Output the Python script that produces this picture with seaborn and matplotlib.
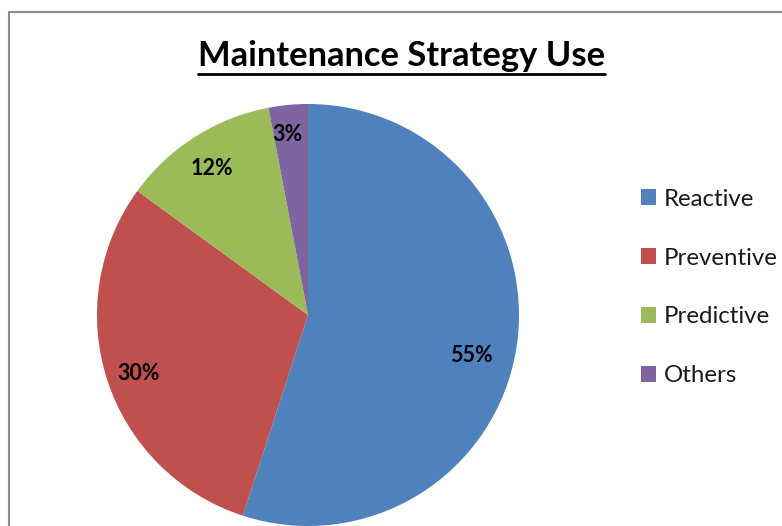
import matplotlib
matplotlib.use("Agg")
import numpy as np
import matplotlib.pyplot as plt
import seaborn as sns
from matplotlib.patches import Rectangle
from matplotlib.lines import Line2D

categories = ["Reactive", "Preventive", "Predictive", "Others"]
values = [55, 30, 12, 3]
colors = ["#4F81BD", "#C0504D", "#9BBB59", "#8064A2"]
title = "Maintenance Strategy Use"

# label placement (style): radial distance and angular shift in degrees
label_dist = [0.80, 0.85, 0.83, 0.86]
label_shift = [-5, 1, 1, 1]

sns.set_theme(style="white")
plt.rcParams['font.family'] = ['Lato', 'DejaVu Sans']

W, H = 782, 526
dpi = 100
fig = plt.figure(figsize=(W / dpi, H / dpi), dpi=dpi)
fig.patch.set_facecolor("white")

# chart frame
fig.patches.append(Rectangle((9 / W, -0.1), 1.2, 1 - 12 / H + 0.1, transform=fig.transFigure,
                             fill=False, edgecolor="#8c8c8c", linewidth=1.5))

cx, cy, R = 308, 315, 211
ax = fig.add_axes([(cx - R) / W, (H - cy - R) / H, 2 * R / W, 2 * R / H])
palette = sns.color_palette(colors)
wedges, texts, autotexts = ax.pie(values, colors=palette, startangle=90, counterclock=False,
                                  autopct="%1.0f%%", pctdistance=0.83, radius=1.0,
                                  wedgeprops=dict(linewidth=0),
                                  textprops=dict(fontsize=15.5, fontweight="bold", color="black"))
for w, at, d, s in zip(wedges, autotexts, label_dist, label_shift):
    ang = np.deg2rad((w.theta1 + w.theta2) / 2 + s)
    at.set_position((d * np.cos(ang), d * np.sin(ang)))
ax.set_xlim(-1, 1)
ax.set_ylim(-1, 1)
ax.set_aspect("equal")
ax.axis("off")

leg = fig.legend(wedges, categories, loc="center left", bbox_to_anchor=(634 / W, 1 - 287.5 / H),
                 frameon=False, fontsize=17.3, handlelength=0.6, handleheight=0.6,
                 handletextpad=0.33, labelspacing=1.58, labelcolor="#1a1a1a",
                 borderaxespad=0, borderpad=0.3)

t = fig.text(401.5 / W, 1 - 66 / H, title, ha="center", va="baseline", fontsize=24.8,
             fontweight="bold", color="black")
fig.canvas.draw()
bb = t.get_window_extent(fig.canvas.get_renderer())
yline = 1 - 73.5 / H
fig.lines.append(Line2D([bb.x0 / W, bb.x1 / W], [yline, yline], transform=fig.transFigure,
                        color="black", linewidth=2.0))

fig.savefig("out.png", dpi=dpi, facecolor="white")
